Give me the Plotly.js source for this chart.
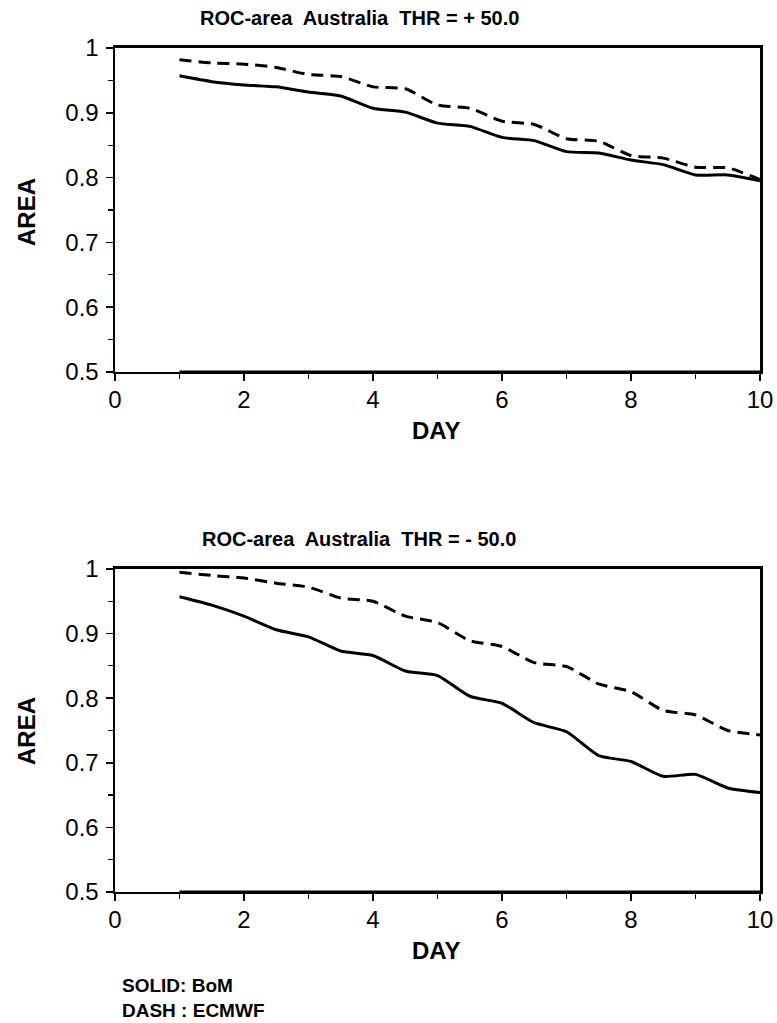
<!DOCTYPE html>
<html>
<head>
<meta charset="utf-8">
<script src="https://cdn.plot.ly/plotly-3.0.1.min.js"></script>
<style>html,body{margin:0;padding:0;background:#fff;}#chart{width:777px;height:1023px;}</style>
</head>
<body>
<div id="chart"></div>
<script>
const days = [1,1.5,2,2.5,3,3.5,4,4.5,5,5.5,6,6.5,7,7.5,8,8.5,9,9.5,10];
const bomPlus   = [0.957,0.948,0.943,0.940,0.932,0.926,0.907,0.901,0.884,0.879,0.862,0.857,0.840,0.838,0.827,0.820,0.804,0.804,0.795];
const ecmwfPlus = [0.982,0.977,0.975,0.970,0.959,0.956,0.940,0.937,0.912,0.907,0.887,0.882,0.860,0.856,0.834,0.830,0.816,0.815,0.797];
const bomMinus  = [0.957,0.944,0.927,0.906,0.895,0.873,0.866,0.842,0.835,0.803,0.792,0.762,0.748,0.711,0.702,0.679,0.682,0.661,0.654];
const ecmwfMinus= [0.995,0.990,0.986,0.978,0.972,0.955,0.950,0.927,0.917,0.889,0.880,0.855,0.849,0.822,0.810,0.781,0.774,0.750,0.743];
const refLine   = [0.5,0.5,0.5,0.5,0.5,0.5,0.5,0.5,0.5,0.5,0.5,0.5,0.5,0.5,0.5,0.5,0.5,0.5,0.5];
const titles = ["ROC-area  Australia  THR = + 50.0", "ROC-area  Australia  THR = - 50.0"];
const xTitle = "DAY", yTitle = "AREA";
const legendText = "SOLID: BoM<br>DASH : ECMWF";

const FONT = 'Liberation Sans, Arial, Helvetica, sans-serif';
const solid = {color:'#000', width:3, shape:'spline', smoothing:0.6};
const dashed = {color:'#000', width:3, shape:'spline', smoothing:0.6, dash:'12px,7px'};
function tr(y, line, xa, ya){ return {x:days, y:y, mode:'lines', line:line, xaxis:xa, yaxis:ya, showlegend:false, hoverinfo:'skip'}; }

const data = [
  tr(refLine, {color:'#000', width:3}, 'x', 'y'),
  tr(bomPlus, solid, 'x', 'y'),
  tr(ecmwfPlus, dashed, 'x', 'y'),
  tr(refLine, {color:'#000', width:3}, 'x2', 'y2'),
  tr(bomMinus, solid, 'x2', 'y2'),
  tr(ecmwfMinus, dashed, 'x2', 'y2')
];

const tickFont = {family:FONT, size:24, color:'#000'};
function xax(anchor){
  return {range:[0,10], dtick:2, tick0:0, anchor:anchor, domain:[0,1],
    showline:true, mirror:true, linecolor:'#000', linewidth:2.5, ticks:'outside', ticklen:7, tickwidth:1.5, tickcolor:'#000',
    minor:{dtick:1, ticks:'outside', ticklen:5, tickwidth:1.2, tickcolor:'#000'},
    showgrid:false, zeroline:false, tickfont:tickFont, fixedrange:true, ticklabelstandoff:-2};
}
function yax(anchor, dom){
  return {range:[0.5,1], dtick:0.1, tick0:0.5, anchor:anchor, domain:dom,
    showline:true, mirror:true, linecolor:'#000', linewidth:2.5, ticks:'outside', ticklen:7, tickwidth:1.5, tickcolor:'#000',
    minor:{dtick:0.05, ticks:'outside', ticklen:5, tickwidth:1.2, tickcolor:'#000'},
    showgrid:false, zeroline:false, tickfont:tickFont, fixedrange:true, ticklabelstandoff:2};
}
const px = v => (v-115)/645;
const py = v => 1 - v/1023;
function ann(text, x, y, size, extra){
  return Object.assign({text:'<b>'+text+'</b>', xref:'paper', yref:'paper', x:px(x), y:py(y), xanchor:'center', yanchor:'middle', showarrow:false, font:{family:FONT, size:size, color:'#000'}}, extra||{});
}

const layout = {
  width:777, height:1023,
  margin:{l:115, r:17, t:0, b:0},
  paper_bgcolor:'#fff', plot_bgcolor:'#fff',
  xaxis: xax('y'), yaxis: yax('x', [0.6364, 0.9531]),
  xaxis2: xax('y2'), yaxis2: yax('x2', [0.1281, 0.4438]),
  annotations:[
    ann(titles[0], 359, 18, 20),
    ann(titles[1], 359, 539, 20),
    ann(xTitle, 436, 430, 24),
    ann(xTitle, 436, 950, 24),
    ann(yTitle, 26, 212, 24, {textangle:-90}),
    ann(yTitle, 26, 731, 24, {textangle:-90}),
    ann(legendText, 120, 998, 19, {xanchor:'left', align:'left'})
  ]
};
Plotly.newPlot('chart', data, layout, {staticPlot:true, displayModeBar:false});
</script>
</body>
</html>
